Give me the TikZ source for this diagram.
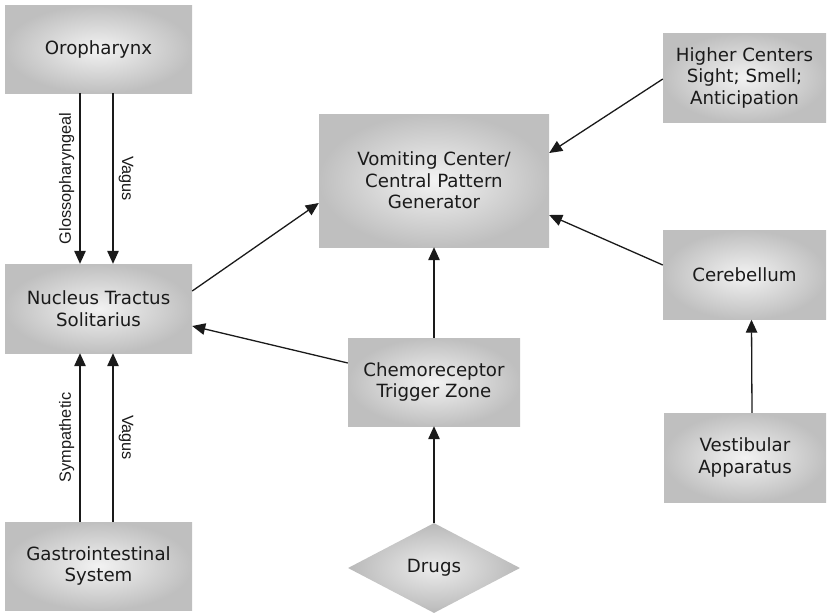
\documentclass[tikz,border=0pt]{standalone}
\usepackage{fontspec}
\setmainfont{DejaVu Sans}
\newfontfamily\labelfont{Liberation Sans}
\usetikzlibrary{arrows.meta,shapes.geometric}

\definecolor{ink}{HTML}{1A1A1A}

\tikzset{
  box/.style={rectangle, inner sep=0pt, align=center, text=ink,
    font=\fontsize{18.2}{21.5}\selectfont,
    inner color=gray!10, outer color=gray!50},
  choice/.style={diamond, inner sep=0pt, align=center, text=ink,
    font=\fontsize{18.2}{21.5}\selectfont,
    inner color=gray!15, outer color=gray!55},
  arr/.style={draw=ink, line width=1.3pt,
    -{Triangle[length=13pt,width=11.5pt]}},
  nerve/.style={font=\labelfont\fontsize{16.3}{18}\selectfont, text=ink,
    inner sep=5pt, anchor=south, midway},
}

\begin{document}
\begin{tikzpicture}[x=1pt, y=-1pt]
\path[use as bounding box] (0,0) rectangle (831,614);

% boxes
\node[box, minimum width=187pt, minimum height=88pt] (oro) at (98.5,49) {Oropharynx};
\node[box, minimum width=187pt, minimum height=89pt] (nts) at (98.5,308.5) {Nucleus Tractus\\Solitarius};
\node[box, minimum width=187pt, minimum height=88pt] (gi) at (98.5,566) {Gastrointestinal\\System};
\node[box, minimum width=230pt, minimum height=133pt] (vc) at (434,180.5) {Vomiting Center/\\Central Pattern\\Generator};
\node[box, minimum width=163pt, minimum height=89pt] (hc) at (744.5,77.5) {Higher Centers\\Sight; Smell;\\Anticipation};
\node[box, minimum width=163pt, minimum height=89pt] (cb) at (744.5,275) {Cerebellum};
\node[box, minimum width=162pt, minimum height=89pt] (va) at (745,457.5) {Vestibular\\Apparatus};
\node[box, minimum width=172pt, minimum height=88pt] (ctz) at (434,382) {Chemoreceptor\\Trigger Zone};
\node[choice, minimum width=172pt, minimum height=90pt] (drugs) at (434,568) {Drugs};

% afferent nerves
\draw[arr] ([xshift=-18.5pt]oro.south) -- ([xshift=-18.5pt]nts.north)
  node[nerve, rotate=90] (glosso) {Glossopharyngeal};
\draw[arr] ([xshift=14.5pt]oro.south) -- ([xshift=14.5pt]nts.north)
  node[nerve, rotate=-90] (vagus1) {Vagus};
\draw[arr] ([xshift=-18.5pt]gi.north) -- ([xshift=-18.5pt]nts.south)
  node[nerve, rotate=90] (symp) {Sympathetic};
\draw[arr] ([xshift=14.5pt]gi.north) -- ([xshift=14.5pt]nts.south)
  node[nerve, rotate=-90] (vagus2) {Vagus};

% central connections
\draw[arr] ([yshift=17.5pt]nts.east) -- ([yshift=-22.5pt]vc.west);
\draw[arr] ([yshift=19pt]ctz.west) -- ([yshift=-17.5pt]nts.east);
\draw[arr] (ctz.north) -- (vc.south);
\draw[arr] (drugs.north) -- (ctz.south);
\draw[arr] ([yshift=-1.5pt]hc.west) -- ([yshift=27.5pt]vc.east);
\draw[arr] ([yshift=10pt]cb.west) -- ([yshift=-34.5pt]vc.east);
\draw[arr] ([xshift=7pt]va.north) -- ([xshift=7pt]cb.south);
\end{tikzpicture}
\end{document}
